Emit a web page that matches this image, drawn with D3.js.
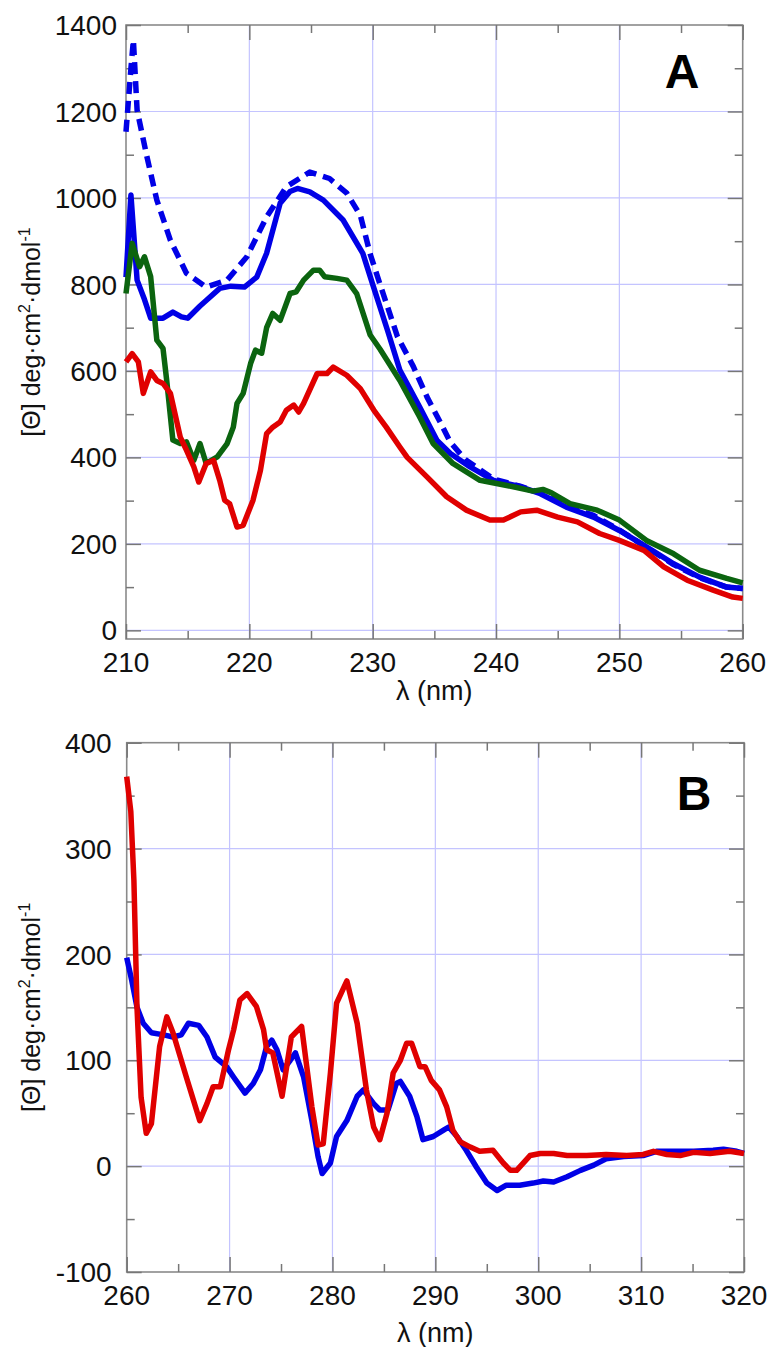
<!DOCTYPE html>
<html>
<head>
<meta charset="utf-8">
<script src="https://cdn.jsdelivr.net/npm/d3@7"></script>
<style>
  body { margin: 0; background: #fff; }
  svg { display: block; font-family: "Liberation Sans", Arial, sans-serif; }
</style>
</head>
<body>
<svg id="chart" width="773" height="1347"></svg>
<script>
// ---- panel A data (wavelength nm, ellipticity) ----
const blueSolidA = [[210,817],[210.4,1007],[210.9,810],[211.5,765],[212,722],[213,722],[213.8,736],[214.5,725],[215,722],[216,750],[216.5,763],[217.6,791],[218.5,796],[219.6,794],[220.6,817],[221.4,872],[222.5,988],[223.3,1015],[223.9,1022],[224.9,1014],[226,995],[227.6,949],[229.2,872],[230,800],[231.2,694],[232.2,602],[233.8,517],[235.2,440],[236.3,409],[237.9,378],[239.8,347],[242,332],[243.6,316],[245.7,285],[247.9,262],[250,231],[252.2,193],[254.4,154],[256.5,123],[258.7,100],[260,97]];
const blueDashA = [[210,1153],[210.4,1300],[210.6,1365],[210.9,1203],[211.7,1095],[212.5,995],[213.6,902],[214.9,826],[216.5,794],[218.2,810],[219.8,864],[221.4,956],[223,1026],[224.9,1060],[226.5,1045],[227.9,1011],[229,960],[229.8,870],[230.6,800],[232,680],[233.3,610],[234.4,540],[235.5,480],[236.3,435],[237.5,395],[239.8,350],[242,333],[243.6,318],[245.7,288],[247.9,266],[250,232],[252.2,192],[254.4,152],[256.5,122],[258.7,100],[260,97]];
const greenA = [[210,779],[210.5,895],[211.1,841],[211.5,864],[212,818],[212.5,671],[213,652],[213.3,578],[213.8,440],[214.4,432],[214.9,436],[215.5,393],[216,432],[216.5,386],[217.4,401],[218.2,432],[218.7,470],[219,525],[219.5,548],[220.1,617],[220.5,648],[221,641],[221.4,700],[221.9,733],[222.5,717],[223.3,779],[223.8,783],[224.4,810],[225.2,833],[225.7,833],[226.1,818],[227.1,814],[227.9,810],[228.7,779],[229.8,683],[230.6,650],[232.2,578],[233.8,494],[234.9,432],[236.5,386],[238.7,347],[241.4,332],[243,322],[243.8,326],[244.5,318],[246,293],[248.2,278],[250,255],[252.2,208],[254.4,177],[256.5,139],[258.7,120],[260,110]];
const redA = [[210,621],[210.5,640],[211,621],[211.4,548],[212,598],[212.5,578],[213,571],[213.6,548],[214.4,447],[214.9,417],[215.5,378],[215.9,343],[216.5,386],[217.1,393],[217.6,347],[218,301],[218.4,293],[219,239],[219.5,243],[220.3,301],[220.9,370],[221.4,455],[221.9,470],[222.5,482],[223,509],[223.6,521],[224,505],[224.4,525],[225.5,594],[226.3,594],[226.8,609],[227.9,590],[229,559],[230.1,509],[231.1,470],[232.2,424],[232.8,400],[234.4,355],[236,309],[237.6,278],[239.5,255],[240.6,255],[242,274],[243.3,278],[245,262],[246.6,251],[248.4,224],[250,208],[252,185],[253.6,147],[255.5,116],[257.6,93],[259.2,77],[260,74]];

// ---- panel B data ----
const blueB = [[260,197],[260.5,175],[261,150],[261.6,135],[262.4,126],[263.6,124],[264.5,122],[265.3,124],[266,135],[267,133],[267.8,122],[268.6,103],[269.7,94],[270.4,84],[271.5,69],[272.3,78],[273,91],[273.6,113],[274.1,119],[274.6,110],[275.2,91],[275.9,100],[276.4,107],[277.2,84],[278,43],[278.6,9],[279,-7],[279.8,3],[280.4,28],[281.4,43],[282.4,66],[283,72],[284,59],[284.6,53],[285.4,53],[286.2,78],[286.6,80],[287.5,66],[288.2,47],[288.8,25],[289.8,28],[290.8,34],[291.3,37],[292.1,28],[293,15],[294,-1],[295,-16],[296,-23],[296.9,-18],[298.2,-18],[299.5,-16],[300.5,-14],[301.5,-15],[302.8,-10],[304.1,-4],[305.4,1],[306.6,7],[308.3,9],[310.2,10],[311.5,14],[313.1,14],[315.1,14],[317,15],[318,16],[319.3,14],[320,12]];
const redB = [[260,368],[260.4,335],[260.7,270],[261,150],[261.4,65],[261.9,31],[262.4,40],[263.2,113],[263.9,141],[264.5,126],[265.8,84],[267.1,43],[267.8,59],[268.4,75],[269.1,75],[269.9,110],[270.4,129],[271,157],[271.7,163],[272.6,151],[273.3,129],[273.6,110],[274.2,107],[275.1,66],[276,122],[277,132],[278,56],[278.6,20],[279.1,21],[279.8,88],[280.4,154],[281.4,175],[282.4,135],[283.3,72],[284,37],[284.6,25],[285.3,50],[285.9,88],[286.6,100],[287.2,116],[287.7,116],[288.5,94],[289,94],[289.6,81],[290.4,72],[291.1,56],[291.7,34],[292.4,23],[293.4,18],[294.3,14],[295.6,15],[296.6,3],[297.3,-4],[297.9,-4],[299.2,10],[300.2,12],[301.5,12],[302.8,10],[304.7,10],[306.6,11],[308.6,10],[310.2,11],[311.2,14],[312.5,11],[313.8,10],[315.1,13],[316.7,12],[318.6,14],[320,12]];

// ---- ticks ----
const xMajorA = [210, 220, 230, 240, 250, 260];
const xMinorA = [215, 225, 235, 245, 255];
const yMajorA = [0, 200, 400, 600, 800, 1000, 1200, 1400];
const yMinorA = [100, 300, 500, 700, 900, 1100, 1300];
const xMajorB = [260, 270, 280, 290, 300, 310, 320];
const xMinorB = [265, 275, 285, 295, 305, 315];
const yMajorB = [-100, 0, 100, 200, 300, 400];
const yMinorB = [-50, 50, 150, 250, 350];

const BLUE = "#0000e6", GREEN = "#0b640f", RED = "#e00000";

const panels = [
  { label: "A", left: 126, right: 742.7, top: 25, bottom: 639,
    xDom: [210, 260], yDom: [-20, 1400],
    xMajor: xMajorA, xMinor: xMinorA, yMajor: yMajorA, yMinor: yMinorA,
    yPad: 9, labelPos: [682, 88], xTitleY: 700,
    series: [
      { data: blueDashA, color: BLUE, dash: "12,7" },
      { data: blueSolidA, color: BLUE },
      { data: greenA, color: GREEN },
      { data: redA, color: RED }
    ] },
  { label: "B", left: 126.7, right: 744, top: 742.7, bottom: 1272,
    xDom: [260, 320], yDom: [-100, 400],
    xMajor: xMajorB, xMinor: xMinorB, yMajor: yMajorB, yMinor: yMinorB,
    yPad: 15, labelPos: [694, 810], xTitleY: 1342,
    series: [
      { data: blueB, color: BLUE },
      { data: redB, color: RED }
    ] }
];

const svg = d3.select("#chart");

panels.forEach(p => {
  const x = d3.scaleLinear().domain(p.xDom).range([p.left, p.right]);
  const y = d3.scaleLinear().domain(p.yDom).range([p.bottom, p.top]);
  const g = svg.append("g");

  // grid
  g.append("g").selectAll("line")
    .data(p.yMajor.filter(v => v > p.yDom[0] && v < p.yDom[1]))
    .enter().append("line")
    .attr("x1", p.left).attr("x2", p.right)
    .attr("y1", d => y(d)).attr("y2", d => y(d))
    .attr("stroke", "#c4c4ff").attr("stroke-width", 1.2);
  g.append("g").selectAll("line")
    .data(p.xMajor.filter(v => v > p.xDom[0] && v < p.xDom[1]))
    .enter().append("line")
    .attr("y1", p.top).attr("y2", p.bottom)
    .attr("x1", d => x(d)).attr("x2", d => x(d))
    .attr("stroke", "#c4c4ff").attr("stroke-width", 1.2);

  // frame
  g.append("rect")
    .attr("x", p.left).attr("y", p.top)
    .attr("width", p.right - p.left).attr("height", p.bottom - p.top)
    .attr("fill", "none").attr("stroke", "#8a8a8a").attr("stroke-width", 1.6);

  // inward ticks on all four sides
  const tick = (axis, transform, vals, len) => {
    const a = g.append("g").attr("transform", transform)
      .call(axis.tickValues(vals).tickSize(-len).tickFormat(""));
    a.select(".domain").remove();
    a.selectAll("line").attr("stroke", "#777").attr("stroke-width", 1.5);
  };
  tick(d3.axisBottom(x), `translate(0,${p.bottom})`, p.xMajor, 15);
  tick(d3.axisBottom(x), `translate(0,${p.bottom})`, p.xMinor, 8);
  tick(d3.axisTop(x), `translate(0,${p.top})`, p.xMajor, 15);
  tick(d3.axisTop(x), `translate(0,${p.top})`, p.xMinor, 8);
  tick(d3.axisLeft(y), `translate(${p.left},0)`, p.yMajor.filter(v => v >= p.yDom[0]), 15);
  tick(d3.axisLeft(y), `translate(${p.left},0)`, p.yMinor, 8);
  tick(d3.axisRight(y), `translate(${p.right},0)`, p.yMajor.filter(v => v >= p.yDom[0]), 15);
  tick(d3.axisRight(y), `translate(${p.right},0)`, p.yMinor, 8);

  // tick labels
  g.append("g").selectAll("text")
    .data(p.xMajor).enter().append("text")
    .attr("x", d => x(d)).attr("y", p.bottom + 33)
    .attr("text-anchor", "middle").attr("font-size", 28).attr("fill", "#111")
    .text(d => d);
  g.append("g").selectAll("text")
    .data(p.yMajor.filter(v => v >= p.yDom[0])).enter().append("text")
    .attr("x", p.left - p.yPad).attr("y", d => y(d))
    .attr("dy", "0.36em")
    .attr("text-anchor", "end").attr("font-size", 28).attr("fill", "#111")
    .text(d => d);

  // series
  const line = d3.line().x(d => x(d[0])).y(d => y(d[1]));
  p.series.forEach(s => {
    g.append("path")
      .datum(s.data)
      .attr("d", line)
      .attr("fill", "none")
      .attr("stroke", s.color)
      .attr("stroke-width", 5.5)
      .attr("stroke-linejoin", "round")
      .attr("stroke-dasharray", s.dash || null);
  });

  // panel letter
  g.append("text")
    .attr("x", p.labelPos[0]).attr("y", p.labelPos[1])
    .attr("text-anchor", "middle")
    .attr("font-size", 48).attr("font-weight", "bold")
    .text(p.label);

  // axis titles
  g.append("text")
    .attr("x", (p.left + p.right) / 2).attr("y", p.xTitleY)
    .attr("text-anchor", "middle").attr("font-size", 27).attr("fill", "#111")
    .text("λ (nm)");

  const yt = g.append("text")
    .attr("transform", `translate(40,${(p.top + p.bottom) / 2})rotate(-90)`)
    .attr("text-anchor", "middle").attr("font-size", 25).attr("fill", "#111");
  yt.append("tspan").text("[Θ] deg·cm");
  yt.append("tspan").attr("dy", -10).attr("font-size", 16).text("2");
  yt.append("tspan").attr("dy", 10).text("·dmol");
  yt.append("tspan").attr("dy", -10).attr("font-size", 16).text("-1");
});
</script>
</body>
</html>
